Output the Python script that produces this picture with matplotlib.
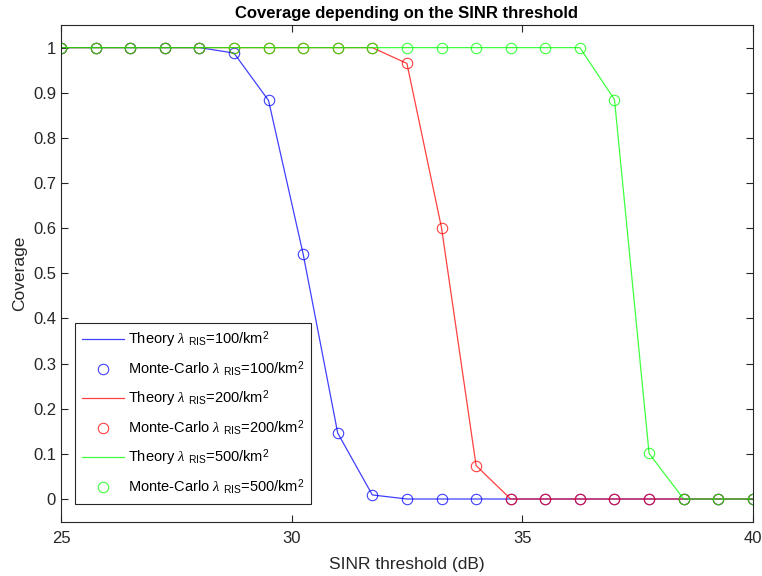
import numpy as np
import matplotlib.pyplot as plt

plt.rcParams['font.family'] = ['Liberation Sans Narrow', 'Liberation Sans', 'DejaVu Sans']
plt.rcParams['mathtext.fontset'] = 'custom'
plt.rcParams['mathtext.rm'] = 'Liberation Sans'
plt.rcParams['mathtext.it'] = 'Liberation Serif:italic'

# SINR thresholds (dB) and coverage per RIS density
sinr_db = np.arange(25, 40.01, 0.75)
cov_100 = [1, 1, 1, 1, 1, 0.988, 0.883, 0.543, 0.146, 0.009, 0, 0, 0, 0, 0, 0, 0, 0, 0, 0, 0]
cov_200 = [1, 1, 1, 1, 1, 1, 1, 1, 1, 1, 0.965, 0.601, 0.074, 0, 0, 0, 0, 0, 0, 0, 0]
cov_500 = [1, 1, 1, 1, 1, 1, 1, 1, 1, 1, 1, 1, 1, 1, 1, 1, 0.885, 0.101, 0, 0, 0]
mc_100 = cov_100
mc_200 = cov_200
mc_500 = cov_500
densities = ['100', '200', '500']

fig = plt.figure(figsize=(7.62, 5.76), dpi=100)
ax = fig.add_axes([0.080, 0.0945, 0.908, 0.862])

series = [(cov_100, mc_100, (0, 0, 1)),
          (cov_200, mc_200, (1, 0, 0)),
          (cov_500, mc_500, (0, 1, 0))]
for (th, mc, c), d in zip(series, densities):
    ax.plot(sinr_db, th, color=c, lw=0.9, alpha=0.75,
            label=r'Theory $\lambda$ $_{\mathrm{RIS}}$=%s/km$^2$' % d)
    ax.plot(sinr_db, mc, 'o', mfc='none', mec=c, ms=7.5, mew=0.8, alpha=0.75,
            label=r'Monte-Carlo $\lambda$ $_{\mathrm{RIS}}$=%s/km$^2$' % d)

ax.set_xlim(25, 40)
ax.set_ylim(-0.05, 1.05)
ax.set_xticks([25, 30, 35, 40])
ax.set_yticks(np.arange(0, 1.01, 0.1))
ax.set_yticklabels(['0', '0.1', '0.2', '0.3', '0.4', '0.5', '0.6', '0.7', '0.8', '0.9', '1'])
ax.tick_params(direction='in', top=True, right=True, length=5, width=0.8,
               labelsize=12, colors='#262626')
ax.tick_params(axis='x', pad=7)
for s in ax.spines.values():
    s.set_color('#262626')
    s.set_linewidth(0.8)

ax.set_title('Coverage depending on the SINR threshold', fontsize=12, fontweight='bold', pad=5)
ax.set_xlabel('SINR threshold (dB)', fontsize=12.5, color='#262626', labelpad=8)
ax.set_ylabel('Coverage', fontsize=12.5, color='#262626')

leg = ax.legend(loc='lower left', bbox_to_anchor=(0.021, 0.036), borderaxespad=0,
                fontsize=10.5, handlelength=2.9, labelspacing=0.62, fancybox=False,
                edgecolor='#262626', framealpha=1, borderpad=0.45, handletextpad=0.25)
leg.get_frame().set_linewidth(0.8)

fig.savefig('out.png', dpi=100)
